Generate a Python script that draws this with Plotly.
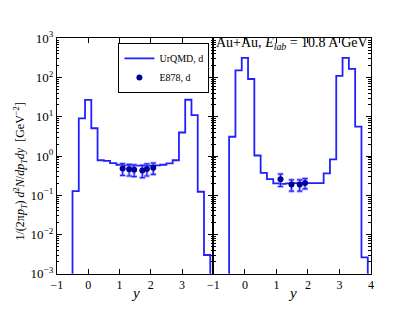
import plotly.graph_objects as go

# ---- data ----
bin_edges = [-0.5, -0.3, -0.1, 0.1, 0.3, 0.5, 0.7, 0.9, 1.1, 1.3, 1.5, 1.7,
             1.9, 2.1, 2.3, 2.5, 2.7, 2.9, 3.1, 3.3, 3.5, 3.7, 3.9]
urqmd_central = [0.127, 9.1, 27.0, 5.1, 0.78, 0.75, 0.66, 0.60, 0.58, 0.57, 0.57,
                 0.57, 0.57, 0.58, 0.60, 0.65, 0.78, 3.98, 27.2, 11.0, 0.123, 0.0030]
urqmd_minb = [3.1, 152, 317, 92, 1.03, 0.37, 0.257, 0.20, 0.195, 0.20, 0.205,
              0.205, 0.205, 0.205, 0.205, 0.36, 0.82, 110, 317, 167, 5.6, 0.0026]

e878_central_y = [1.10, 1.31, 1.47, 1.73, 1.875, 2.08]
e878_central_v = [0.48, 0.46, 0.45, 0.43, 0.47, 0.50]
e878_central_err = [0.16, 0.15, 0.15, 0.15, 0.16, 0.16]
e878_minb_y = [1.13, 1.48, 1.74, 1.91]
e878_minb_v = [0.257, 0.187, 0.187, 0.206]
e878_minb_err = [0.09, 0.06, 0.06, 0.06]
x_err = 0.08

xtick_vals_left = [-1, 0, 1, 2, 3]
xtick_vals_right = [-1, 0, 1, 2, 3, 4]
ytick_vals = [1e-3, 1e-2, 1e-1, 1e0, 1e1, 1e2, 1e3]
ytick_text = ["10<sup>−3</sup>", "10<sup>−2</sup>", "10<sup>−1</sup>", "10<sup>0</sup>",
              "10<sup>1</sup>", "10<sup>2</sup>", "10<sup>3</sup>"]


def xtick_text(vals):
    return [("−%d" % -v) if v < 0 else str(v) for v in vals]


FLOOR = 1e-6
BLUE = "#2020ff"
DARK = "#000099"
LIGHT = "rgba(120,120,255,0.55)"
FONT = "Liberation Serif"


def step_xy(edges, vals):
    xs = [edges[0]] + list(edges) + [edges[-1]]
    ys = [FLOOR] + list(vals) + [vals[-1], FLOOR]
    return xs, ys


fig = go.Figure()

for i, (vals, ax) in enumerate([(urqmd_central, ("x", "y")), (urqmd_minb, ("x2", "y2"))]):
    xs, ys = step_xy(bin_edges, vals)
    fig.add_trace(go.Scatter(x=xs, y=ys, mode="lines", line=dict(color=BLUE, width=1.8, shape="hv"),
                             name="UrQMD, d", showlegend=(i == 0), xaxis=ax[0], yaxis=ax[1]))

for i, (xv, yv, ev, ax) in enumerate([(e878_central_y, e878_central_v, e878_central_err, ("x", "y")),
                                      (e878_minb_y, e878_minb_v, e878_minb_err, ("x2", "y2"))]):
    fig.add_trace(go.Scatter(x=xv, y=yv, mode="markers", marker=dict(size=1, color="rgba(0,0,0,0)"),
                             error_y=dict(type="data", array=ev, color=LIGHT, thickness=3, width=3),
                             error_x=dict(type="constant", value=x_err, color=LIGHT, thickness=3, width=0),
                             showlegend=False, hoverinfo="skip", xaxis=ax[0], yaxis=ax[1]))
    fig.add_trace(go.Scatter(x=xv, y=yv, mode="markers", marker=dict(size=6, color=DARK),
                             error_y=dict(type="data", array=ev, color=BLUE, thickness=1.2, width=2.5),
                             error_x=dict(type="constant", value=x_err, color=BLUE, thickness=1.2, width=0),
                             name="E878, d", showlegend=(i == 0), xaxis=ax[0], yaxis=ax[1]))

minor_vals = [m * 10 ** e for e in range(-3, 3) for m in range(2, 10)]

common_y = dict(type="log", range=[-3, 3], tickvals=ytick_vals, ticktext=ytick_text,
                ticks="inside", ticklen=5, tickcolor="black", showline=True, linecolor="black",
                linewidth=1, mirror="ticks", showgrid=False, zeroline=False,
                minor=dict(tickvals=minor_vals, ticks="inside", ticklen=2.5, tickcolor="black", showgrid=False),
                domain=[0.1026, 0.9006], tickfont=dict(family=FONT, size=13, color="black"))
common_x = dict(range=[-1, 4], ticks="inside", ticklen=5, tickcolor="black", showline=True,
                linecolor="black", linewidth=1, mirror="ticks", showgrid=False, zeroline=False,
                tickfont=dict(family=FONT, size=12, color="black"))

fig.update_layout(
    width=415, height=312, margin=dict(l=0, r=0, t=0, b=0),
    paper_bgcolor="white", plot_bgcolor="white",
    font=dict(family=FONT, color="black"),
    xaxis=dict(common_x, domain=[0.1253, 0.5108], tickvals=xtick_vals_left,
               ticktext=xtick_text(xtick_vals_left)),
    xaxis2=dict(common_x, domain=[0.5108, 0.8988], anchor="y2", tickvals=xtick_vals_right,
                ticktext=xtick_text(xtick_vals_right)),
    yaxis=dict(common_y),
    yaxis2=dict(common_y, anchor="x2", showticklabels=False),
    legend=dict(x=0.501, y=0.885, xanchor="right", yanchor="top", bgcolor="white",
                bordercolor="black", borderwidth=1, font=dict(family=FONT, size=10, color="black"),
                tracegroupgap=0, itemwidth=30),
    showlegend=True,
)

fig.add_annotation(text="central", x=0.5, y=16, xref="x", yref="y", yanchor="middle",
                   xanchor="left", showarrow=False, font=dict(family=FONT, size=14, color="black"))
fig.add_annotation(text="minb.", x=0.52, y=16, xref="x2", yref="y2", yanchor="middle",
                   xanchor="left", showarrow=False, font=dict(family=FONT, size=14, color="black"))
fig.add_annotation(text="Au+Au, <i>E</i><sub><i>lab</i></sub> = 10.8 A GeV", x=0.512, y=0.884,
                   xref="paper", yref="paper", xanchor="left", yanchor="middle", showarrow=False,
                   font=dict(family=FONT, size=14, color="black"))
for ax_ref in ("x domain", "x2 domain"):
    fig.add_annotation(text="<i>y</i>", x=0.5, y=0.038, xref=ax_ref, yref="paper",
                       xanchor="center", yanchor="middle", showarrow=False,
                       font=dict(family=FONT, size=15, color="black"))
fig.add_annotation(text="1/(2π<i>p</i><sub><i>T</i></sub>) <i>d</i><sup>2</sup><i>N</i>/<i>dp</i><sub><i>T</i></sub><i>dy</i>  [GeV<sup>−2</sup>]",
                   x=0.035, y=0.45, xref="paper", yref="paper", textangle=-90, showarrow=False,
                   xanchor="center", yanchor="middle", font=dict(family=FONT, size=12, color="black"))

fig.write_html("out.html", config={"displayModeBar": False},
               post_script="document.body.style.margin='0';")
